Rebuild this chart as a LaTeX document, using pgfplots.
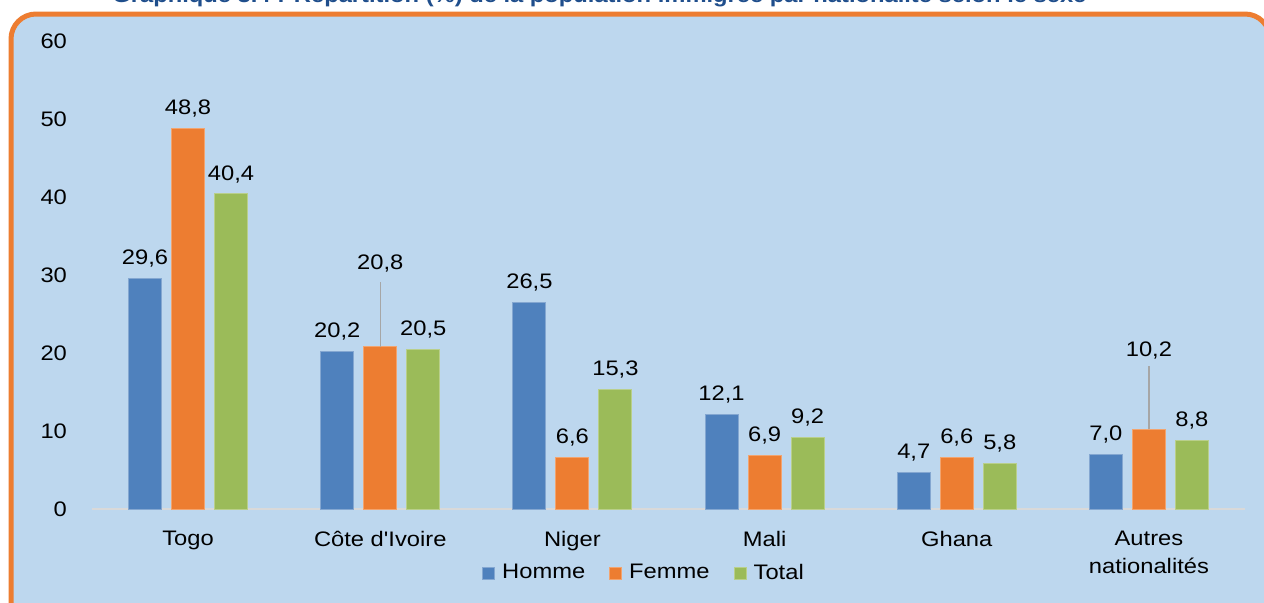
\documentclass[border=0pt]{standalone}
\usepackage{pgfplots}
\pgfplotsset{compat=1.18}
\usepackage{pgfplotstable}
\usepackage{fontspec}
\setmainfont{Liberation Sans}[FakeStretch=1.13, Ligatures=TeXOff]

\definecolor{bgblue}{HTML}{BDD7EE}
\definecolor{borderorange}{HTML}{ED7D31}
\definecolor{hblue}{HTML}{4F81BD}
\definecolor{forange}{HTML}{ED7D31}
\definecolor{tgreen}{HTML}{9BBB59}
\definecolor{axisgray}{HTML}{D9D9D9}
\definecolor{leadgray}{HTML}{A6A6A6}
\definecolor{titleblue}{HTML}{1F4E8C}

\pgfplotsset{/pgfplots/ybar legend/.style={/pgfplots/legend image code/.code={\fill[##1] (0pt,-3pt) rectangle (6pt,3pt);}}}

\pgfplotstableread{
x h f t ferr
0 29.6 48.8 40.4 0
1 20.2 20.8 20.5 8.3
2 26.5 6.6 15.3 0
3 12.1 6.9 9.2 0
4 4.7 6.6 5.8 0
5 7.0 10.2 8.8 8.1
}\datatable

\newcommand{\chartfont}{\fontsize{10.5}{13.5}\selectfont}

\begin{document}
\begin{tikzpicture}[x=0.5pt,y=0.5pt,font=\chartfont]
\useasboundingbox (0,0) rectangle (1264,602);
\clip (0,0) rectangle (1264,602);
\fill[white] (0,0) rectangle (1264,602);
\draw[draw=borderorange, line width=2.5pt, fill=bgblue, rounded corners=12.5pt] (11,-40) rectangle (1270,588);
\node[anchor=base west, font=\bfseries\chartfont, text=titleblue, inner sep=0pt] at (112,600) {Graphique 3.4 : Répartition (\%) de la population immigrée par nationalité selon le sexe};
\begin{axis}[
  at={(46pt,46.5pt)}, anchor=south west,
  width=576.5pt, height=234pt, scale only axis,
  ybar=5pt, bar width=16.5pt,
  xmin=-0.5, xmax=5.5, ymin=0, ymax=60,
  enlargelimits=false,
  xtick={0,1,2,3,4,5},
  xticklabels={Togo,Côte d'Ivoire,Niger,Mali,Ghana,{Autres\\nationalités}},
  ytick={0,10,20,30,40,50,60},
  major tick length=0pt,
  tick style={draw=none},
  separate axis lines,
  axis x line*=bottom,
  axis y line*=left,
  x axis line style={-, draw=axisgray, line width=1pt},
  y axis line style={draw=none},
  /pgf/number format/assume math mode=true,
  tick label style={font=\chartfont, text=black},
  yticklabel style={anchor=east, xshift=-9pt},
  xticklabel style={align=center, anchor=north, yshift=-7.5pt, font=\fontsize{10.5}{14}\selectfont},
  nodes near coords,
  nodes near coords style={font=\chartfont, text=black, anchor=south, yshift=2pt,
    /pgf/number format/fixed, /pgf/number format/fixed zerofill,
    /pgf/number format/precision=1, /pgf/number format/use comma,
    /pgf/number format/assume math mode=true},
  legend style={at={(0.4796,-0.1368)}, anchor=center, draw=none, fill=none,
    legend columns=3, font=\chartfont, inner sep=0pt,
    /tikz/every even column/.append style={column sep=10pt},
    /tikz/every odd column/.append style={column sep=1.5pt}},
  legend cell align=left,
]
\addplot[fill=hblue, draw=hblue!70!white, line width=0.5pt] table[x=x,y=h] {\datatable};
\addplot[fill=forange, draw=forange!70!white, line width=0.5pt,
  coordinate style/.condition={abs(x-1)<0.01}{yshift=31.5pt},
  coordinate style/.condition={abs(x-5)<0.01}{yshift=29.5pt},
  error bars/.cd, y dir=plus, y explicit, error mark=none,
  error bar style={draw=leadgray, line width=0.7pt}]
  table[x=x,y=f,y error=ferr] {\datatable};
\addplot[fill=tgreen, draw=tgreen!70!white, line width=0.5pt] table[x=x,y=t] {\datatable};
\legend{Homme,Femme,Total}
\end{axis}
\end{tikzpicture}
\end{document}
